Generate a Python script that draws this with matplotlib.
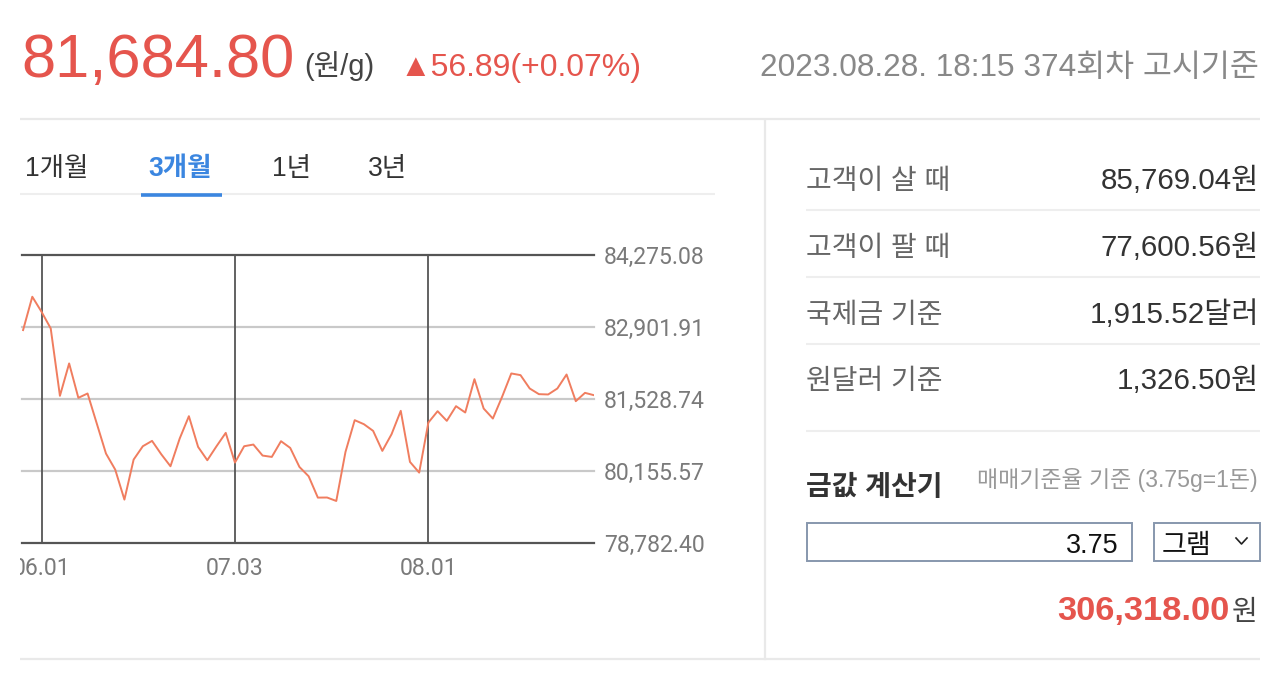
import matplotlib
matplotlib.use("Agg")
import matplotlib.pyplot as plt
from matplotlib.patches import Rectangle
from matplotlib.transforms import Bbox

# ---------------- data ----------------
dates = ["05.30", "05.31",
         "06.01", "06.02", "06.05", "06.07", "06.08", "06.09", "06.12", "06.13", "06.14", "06.15",
         "06.16", "06.19", "06.20", "06.21", "06.22", "06.23", "06.26", "06.27", "06.28", "06.29", "06.30",
         "07.03", "07.04", "07.05", "07.06", "07.07", "07.10", "07.11", "07.12", "07.13", "07.14",
         "07.17", "07.18", "07.19", "07.20", "07.21", "07.24", "07.25", "07.26", "07.27", "07.28", "07.31",
         "08.01", "08.02", "08.03", "08.04", "08.07", "08.08", "08.09", "08.10", "08.11",
         "08.14", "08.16", "08.17", "08.18", "08.21", "08.22", "08.23", "08.24", "08.25", "08.28"]
prices = [82843, 83479, 83193, 82875, 81589, 82207, 81551, 81634, 81061, 80488,
          80183, 79610, 80373, 80628, 80730, 80475, 80246, 80774, 81201, 80615,
          80361, 80628, 80883, 80316, 80628, 80660, 80450, 80424, 80724, 80596,
          80233, 80055, 79648, 79650, 79584, 80520, 81125, 81048, 80921, 80539,
          80857, 81303, 80329, 80125, 81080, 81296, 81112, 81392, 81271, 81907,
          81347, 81156, 81570, 82016, 81984, 81729, 81621, 81615, 81729, 81996,
          81487, 81646, 81600]
y_ticks = [78782.40, 80155.57, 81528.74, 82901.91, 84275.08]
x_tick_dates = ["06.01", "07.03", "08.01"]

current_price = "81,684.80"
unit = "(원/g)"
change = "▲56.89(+0.07%)"
notice = "2023.08.28. 18:15 374회차 고시기준"
tabs = ["1개월", "3개월", "1년", "3년"]
info_labels = ["고객이 살 때", "고객이 팔 때", "국제금 기준", "원달러 기준"]
info_values = ["85,769.04원", "77,600.56원", "1,915.52달러", "1,326.50원"]
calc_title = "금값 계산기"
calc_note = "매매기준율 기준 (3.75g=1돈)"
calc_input = "3.75"
calc_unit = "그램"
calc_result = "306,318.00"

# ---------------- style ----------------
W, H = 1284, 686
FAM = ["Liberation Sans", "Noto Sans CJK KR", "DejaVu Sans"]
RED = "#E5554D"
LINE = "#F07D5F"
plt.rcParams["font.family"] = FAM

fig = plt.figure(figsize=(W / 100, H / 100), dpi=100)
fig.patch.set_facecolor("white")

bg = fig.add_axes([0, 0, 1, 1])
bg.set_xlim(0, W)
bg.set_ylim(H, 0)
bg.axis("off")


def T(x, y, s, px, color="#333333", ha="left", va="baseline", weight="normal", family=FAM):
    bg.text(x, y, s, fontsize=px * 0.72, color=color, ha=ha, va=va,
            fontweight=weight, family=family)


def hline(y, x0, x1, color="#ebebeb", lw=1.5):
    bg.plot([x0, x1], [y, y], color=color, lw=lw, solid_capstyle="butt")


# header
T(21, 77, current_price, 61.5, RED)
T(304, 75, unit, 29, "#444444")
T(400, 76, change, 32, RED)
T(1259, 76, notice, 31.5, "#888888", ha="right")
hline(119, 20, 1260, "#e9e9e9", 1.6)
hline(659, 20, 1260, "#e9e9e9", 1.6)
bg.plot([765, 765], [120, 659], color="#e9e9e9", lw=1.6)

# tabs
tab_x = [25, 148, 272, 368]
for i, (tx, t) in enumerate(zip(tab_x, tabs)):
    if i == 1:
        T(tx, 176, t, 26.5, "#3B86E0", weight="bold")
    else:
        T(tx, 176, t, 26.5, "#333333")
hline(194, 20, 715, "#eeeeee", 1.5)
hline(194.5, 141, 222, "#3B86E0", 2.6)

# right info rows
row_y = [189, 256, 323, 389]
for yb, lab, val in zip(row_y, info_labels, info_values):
    T(806, yb, lab, 28, "#666666")
    T(1259, yb, val, 29.5, "#333333", ha="right")
for ys in [210, 277, 344]:
    hline(ys, 806, 1260, "#eeeeee", 1.5)
hline(431, 806, 1260, "#eeeeee", 1.5)

# calculator
T(806, 495, calc_title, 28, "#333333", weight="bold")
T(1258, 487, calc_note, 23, "#999999", ha="right")
bg.add_patch(Rectangle((806.5, 522.5), 325, 38, fill=False, ec="#8797AD", lw=1.4))
bg.add_patch(Rectangle((1153.5, 522.5), 106, 38, fill=False, ec="#8797AD", lw=1.4))
T(1119, 553, calc_input, 27, "#111111", ha="right")
T(1162, 553, calc_unit, 27, "#111111")
bg.plot([1236, 1241.5, 1247], [538, 544, 538], color="#222222", lw=1.2)
T(1229, 620, calc_result, 34.5, RED, ha="right", weight="bold")
T(1258, 620, "원", 28, "#444444", ha="right")

# ---------------- chart ----------------
L, R, TOP, BOT = 21.7, 594.2, 255, 543
ax = fig.add_axes([L / W, 1 - BOT / H, (R - L) / W, (BOT - TOP) / H])
ax.set_facecolor("none")
x = list(range(len(prices)))
ax.set_xlim(-0.15, len(prices) - 1)
ax.set_ylim(y_ticks[0], y_ticks[-1])
for s in ax.spines.values():
    s.set_visible(False)

for i, yv in enumerate(y_ticks):
    edge = i in (0, len(y_ticks) - 1)
    ax.axhline(yv, color="#555555" if edge else "#c9c9c9", lw=1.6, zorder=1, clip_on=False)
tick_idx = [dates.index(d) for d in x_tick_dates]
for xi in tick_idx:
    ax.axvline(xi, color="#555555", lw=1.3, zorder=1)

ax.plot(x, prices, color=LINE, lw=1.4, zorder=3)

ax.yaxis.tick_right()
ax.set_yticks(y_ticks)
ax.set_yticklabels([f"{v:,.2f}" for v in y_ticks], family="Roboto", color="#7a7a7a",
                   fontsize=23 * 0.72)
ax.tick_params(axis="y", length=0, pad=7)
ax.set_xticks(tick_idx)
ax.set_xticklabels(x_tick_dates, family="Roboto", color="#7a7a7a", fontsize=23 * 0.72)
ax.tick_params(axis="x", length=0, pad=10)
clip = Bbox.from_extents(20, 0, W, H)
for lab in ax.get_xticklabels():
    lab.set_clip_box(clip)
    lab.set_clip_on(True)

fig.savefig("out.png", dpi=100, facecolor="white")
